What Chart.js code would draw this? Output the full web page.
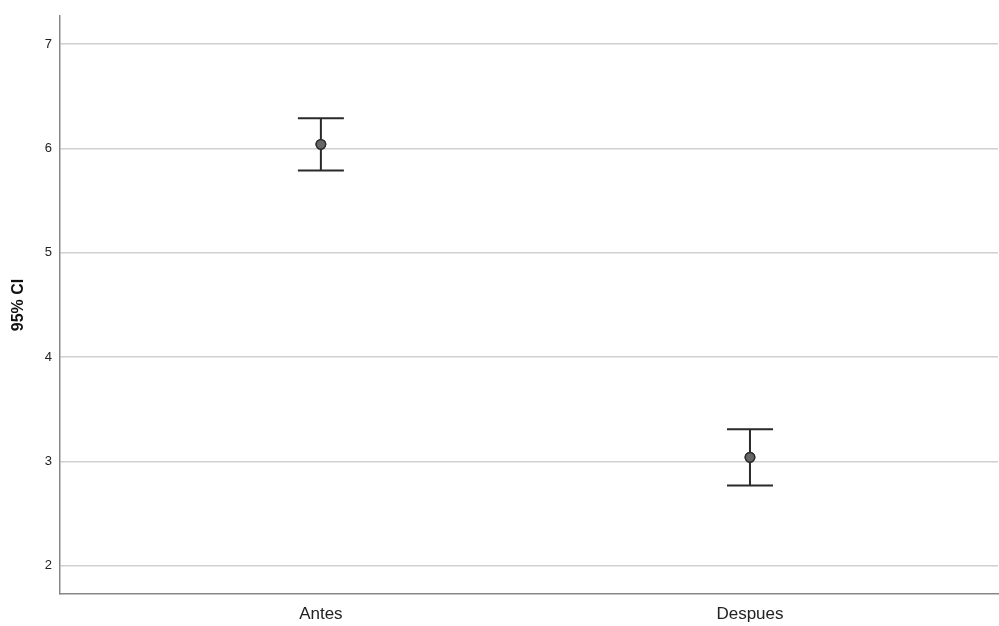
<!DOCTYPE html>
<html>
<head>
<meta charset="utf-8">
<script src="https://cdn.jsdelivr.net/npm/chart.js@4"></script>
<style>
  html, body { margin: 0; padding: 0; background: #fff; overflow: hidden; }
  canvas { display: block; }
</style>
</head>
<body>
<canvas id="ci" width="999" height="626"></canvas>
<script>
// ── Data ──────────────────────────────────────────────
var groups  = ['Antes', 'Despues'];
var means   = [6.04, 3.04];
var lowerCI = [5.79, 2.77];
var upperCI = [6.29, 3.31];
var yTicks  = [2, 3, 4, 5, 6, 7];

var points = groups.map(function (g, i) { return { x: i + 1, y: means[i] }; });

// ── Stretch plot area to the right edge ───────────────
var stretchRight = {
  id: 'stretchRight',
  afterLayout: function (chart) {
    var x = chart.scales.x, a = chart.chartArea;
    var r = chart.width - 1;
    x.right = r; x.width = r - x.left;
    a.right = r; a.width = r - a.left;
    x.configure();
  }
};

// ── Error bar plugin ──────────────────────────────────
var errorBars = {
  id: 'errorBars',
  afterDatasetsDraw: function (chart) {
    var ctx = chart.ctx, xs = chart.scales.x, ys = chart.scales.y;
    ctx.save();
    ctx.strokeStyle = '#2a2a2a';
    ctx.lineWidth = 2;
    groups.forEach(function (g, i) {
      var x  = xs.getPixelForValue(i + 1);
      var yl = ys.getPixelForValue(lowerCI[i]);
      var yu = ys.getPixelForValue(upperCI[i]);
      var half = 23;
      ctx.beginPath();
      ctx.moveTo(x, yu); ctx.lineTo(x, yl);
      ctx.moveTo(x - half, yu); ctx.lineTo(x + half, yu);
      ctx.moveTo(x - half, yl); ctx.lineTo(x + half, yl);
      ctx.stroke();
    });
    ctx.restore();
    // redraw points over the bars
    chart.getDatasetMeta(0).data.forEach(function (el) { el.draw(ctx); });
  }
};

new Chart(document.getElementById('ci'), {
  type: 'scatter',
  data: {
    datasets: [{
      data: points,
      pointRadius: 4.8,
      pointBackgroundColor: '#666',
      pointBorderColor: '#2a2a2a',
      pointBorderWidth: 1.3
    }]
  },
  options: {
    responsive: false,
    animation: false,
    layout: { padding: { top: 16, right: 0, left: 0, bottom: 0 } },
    plugins: { legend: { display: false }, tooltip: { enabled: false } },
    scales: {
      x: {
        type: 'linear',
        min: 0.392, max: 2.578,
        afterBuildTicks: function (s) { s.ticks = groups.map(function (g, i) { return { value: i + 1 }; }); },
        afterFit: function (s) { s.height = 32; },
        ticks: {
          autoSkip: false, maxRotation: 0,
          padding: 10,
          color: '#222',
          font: { family: 'Liberation Sans, Arial, sans-serif', size: 17 },
          callback: function (v) { return groups[v - 1]; }
        },
        grid: { display: false, drawTicks: false },
        border: { display: true, color: '#888', width: 1.5 }
      },
      y: {
        min: 1.73, max: 7.27,
        afterBuildTicks: function (s) { s.ticks = yTicks.map(function (v) { return { value: v }; }); },
        afterFit: function (s) { s.width = 60; },
        ticks: {
          padding: 8,
          color: '#222',
          font: { family: 'Liberation Sans, Arial, sans-serif', size: 13 }
        },
        grid: { color: '#d0d0d0', lineWidth: 1.6, drawTicks: false },
        border: { display: true, color: '#888', width: 1.5 },
        title: {
          display: true,
          text: '95% CI',
          color: '#111',
          padding: { top: 9, bottom: 0 },
          font: { family: 'Liberation Sans, Arial, sans-serif', size: 16, weight: 'bold' }
        }
      }
    }
  },
  plugins: [stretchRight, errorBars]
});
</script>
</body>
</html>
